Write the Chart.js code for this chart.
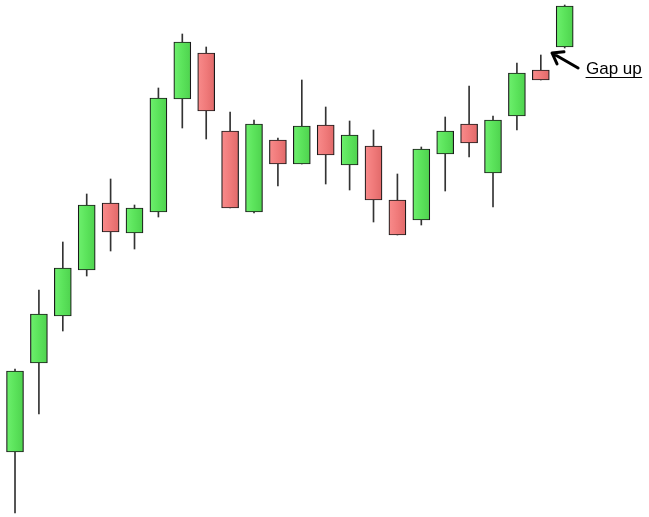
<!DOCTYPE html>
<html lang="en">
<head>
    <meta charset="UTF-8">
    <title>Gap up candlestick</title>
    <script src="https://cdn.jsdelivr.net/npm/chart.js"></script>
    <style>
        body { margin: 0; background: #fff; }
        #wrap { position: relative; width: 649px; height: 517px; }
    </style>
</head>
<body>
    <div id="wrap"><canvas id="candles"></canvas></div>
    <script>
        // candle data (arbitrary price units)
        const days = [1, 2, 3, 4, 5, 6, 7, 8, 9, 10, 11, 12, 13, 14, 15, 16, 17, 18, 19, 20, 21, 22, 23, 24];
        const openP  = [68, 157, 204, 250, 317, 287, 308, 421, 467, 389, 308, 380, 356, 395, 355, 374, 320, 300, 366, 396, 347, 404, 450, 473];
        const highP  = [151, 230, 278, 326, 341, 315, 432, 486, 473, 408, 400, 382, 440, 413, 399, 390, 346, 373, 403, 434, 404, 457, 465, 515];
        const lowP   = [7, 106, 189, 244, 269, 271, 303, 392, 381, 312, 307, 334, 356, 336, 330, 298, 285, 295, 329, 363, 313, 390, 440, 472];
        const closeP = [149, 206, 252, 315, 288, 312, 422, 478, 409, 312, 396, 356, 394, 365, 385, 320, 285, 371, 389, 377, 400, 447, 440, 514];

        // annotation, in data coordinates
        const noteText = 'Gap up';
        const arrowTail = { x: 24.56, y: 452 };
        const arrowTip = { x: 23.47, y: 467 };
        const notePos = { x: 24.89, y: 446 };

        const upShades = ['#6cef6c', '#5be35b', '#4fd34f'];
        const downShades = ['#f88a8a', '#f07a7a', '#e26a6a'];

        const bodies = days.map((d, i) => ({ x: d, y: [openP[i], closeP[i]] }));
        const wicks = days.map((d, i) => ({ x: d, y: [lowP[i], highP[i]] }));

        function bodyFill(ctx) {
            const i = ctx.dataIndex;
            if (i === undefined) return upShades[1];
            const shades = closeP[i] >= openP[i] ? upShades : downShades;
            const xs = ctx.chart.scales.x;
            const cx = xs ? xs.getPixelForValue(days[i]) : NaN;
            if (!isFinite(cx)) return shades[1];
            const g = ctx.chart.ctx.createLinearGradient(cx - 8, 0, cx + 8, 0);
            g.addColorStop(0, shades[0]);
            g.addColorStop(0.5, shades[1]);
            g.addColorStop(1, shades[2]);
            return g;
        }

        const gapNote = {
            id: 'gapNote',
            afterDatasetsDraw(chart) {
                const c = chart.ctx;
                const xs = chart.scales.x, ys = chart.scales.y;
                const x1 = xs.getPixelForValue(arrowTail.x), y1 = ys.getPixelForValue(arrowTail.y);
                const x2 = xs.getPixelForValue(arrowTip.x), y2 = ys.getPixelForValue(arrowTip.y);
                c.save();
                c.strokeStyle = '#000';
                c.lineWidth = 3;
                c.lineCap = 'round';
                c.lineJoin = 'round';
                c.beginPath();
                c.moveTo(x1, y1);
                c.lineTo(x2, y2);
                const ang = Math.atan2(y1 - y2, x1 - x2);
                const head = 12;
                c.moveTo(x2 + head * Math.cos(ang - 0.62), y2 + head * Math.sin(ang - 0.62));
                c.lineTo(x2, y2);
                c.lineTo(x2 + head * Math.cos(ang + 0.62), y2 + head * Math.sin(ang + 0.62));
                c.stroke();

                c.font = '17px "Liberation Sans", Arial, sans-serif';
                c.fillStyle = '#000';
                c.textBaseline = 'alphabetic';
                const tx = xs.getPixelForValue(notePos.x), ty = ys.getPixelForValue(notePos.y);
                c.fillText(noteText, tx, ty);
                const w = c.measureText(noteText).width;
                c.lineWidth = 1;
                c.beginPath();
                c.moveTo(tx, ty + 3.5);
                c.lineTo(tx + w, ty + 3.5);
                c.stroke();
                c.restore();
            }
        };

        new Chart(document.getElementById('candles'), {
            type: 'bar',
            data: {
                datasets: [
                    {
                        label: 'body',
                        data: bodies,
                        backgroundColor: bodyFill,
                        borderColor: '#1a1a1a',
                        borderWidth: 1.2,
                        borderSkipped: false,
                        barThickness: 17,
                        grouped: false,
                        order: 1
                    },
                    {
                        label: 'wick',
                        data: wicks,
                        backgroundColor: '#333',
                        borderWidth: 0,
                        barThickness: 1,
                        grouped: false,
                        order: 2
                    }
                ]
            },
            options: {
                responsive: true,
                maintainAspectRatio: false,
                animation: false,
                layout: { padding: 0 },
                plugins: { legend: { display: false }, tooltip: { enabled: false } },
                scales: {
                    x: { type: 'linear', display: false, offset: false, min: 0.372, max: 27.527 },
                    y: { display: false, min: 3, max: 520 }
                }
            },
            plugins: [gapNote]
        });
    </script>
</body>
</html>
